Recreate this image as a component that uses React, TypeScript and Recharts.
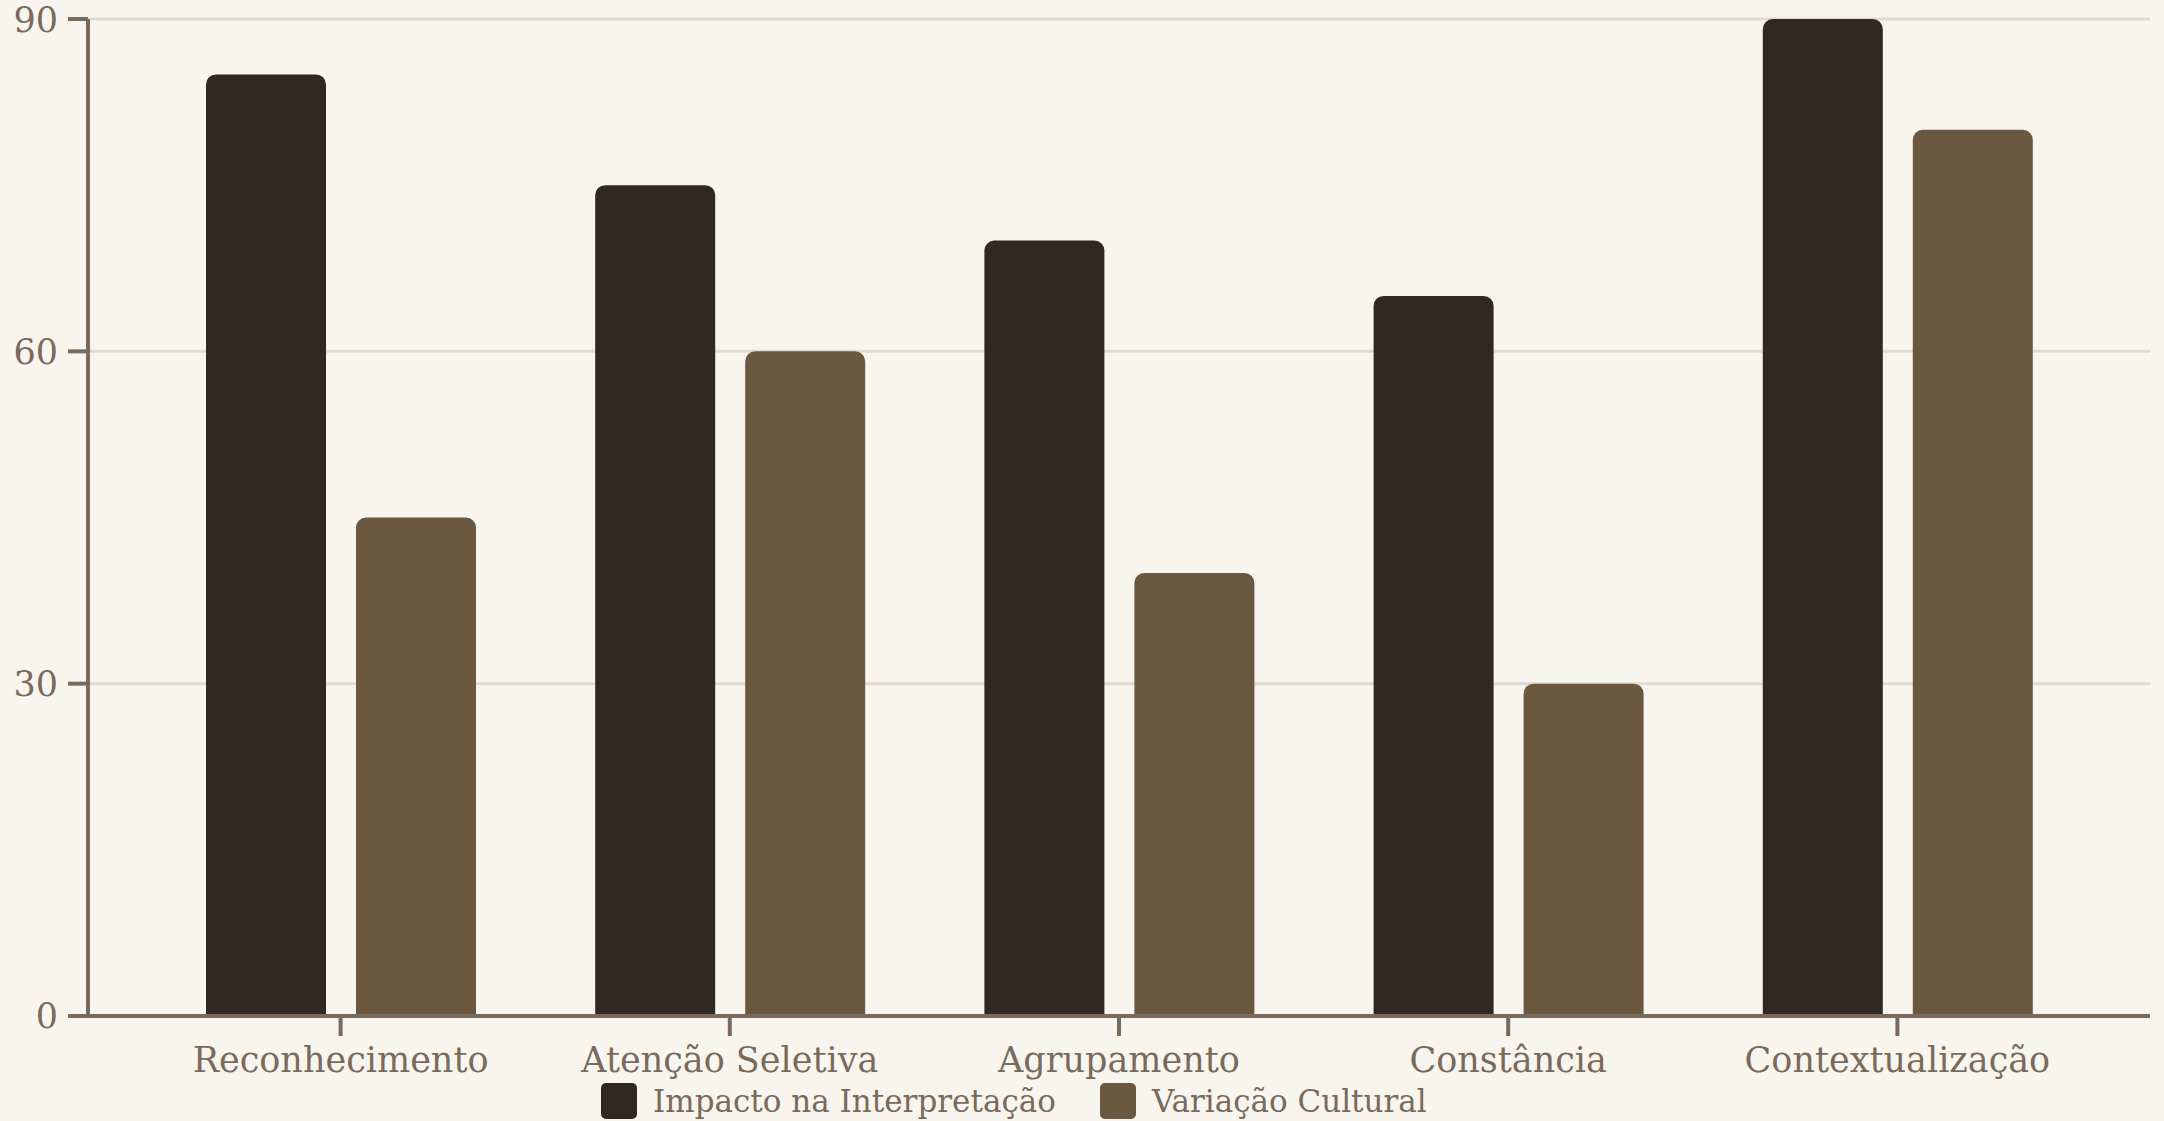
import { Bar, BarChart, CartesianGrid, Legend, XAxis, YAxis } from 'recharts'

const CATEGORIES = [
  'Reconhecimento',
  'Atenção Seletiva',
  'Agrupamento',
  'Constância',
  'Contextualização',
]
const IMPACTO = [85, 75, 70, 65, 90]
const VARIACAO = [45, 60, 40, 30, 80]
const Y_TICKS = [0, 30, 60, 90]

const SERIES = [
  { key: 'impacto', label: 'Impacto na Interpretação', color: '#312920' },
  { key: 'variacao', label: 'Variação Cultural', color: '#6b5840' },
]

const FONT = '"DejaVu Serif", "Liberation Serif", serif'
const INK = '#7a6a5c'

const chartData = CATEGORIES.map((name, i) => ({
  name,
  impacto: IMPACTO[i],
  variacao: VARIACAO[i],
}))

function LegendRow() {
  return (
    <div
      style={{
        height: 40,
        display: 'flex',
        alignItems: 'center',
        paddingLeft: 601,
        fontFamily: FONT,
        fontSize: 31,
        color: INK,
        whiteSpace: 'nowrap',
      }}
    >
      {SERIES.map((s, i) => (
        <div
          key={s.key}
          style={{ display: 'flex', alignItems: 'center', marginLeft: i === 0 ? 0 : 44 }}
        >
          <span
            style={{
              width: 36,
              height: 36,
              borderRadius: 5,
              background: s.color,
              marginRight: 16,
              display: 'inline-block',
            }}
          />
          <span>{s.label}</span>
        </div>
      ))}
    </div>
  )
}

export default function App() {
  return (
    <div
      style={{
        position: 'fixed',
        top: 0,
        left: 0,
        width: 2164,
        height: 1121,
        background: '#f8f5ee',
      }}
    >
      <BarChart
        width={2164}
        height={1121}
        data={chartData}
        margin={{ top: 19, right: 14, bottom: 0, left: 0 }}
        barSize={120}
        barGap={30}
      >
        <CartesianGrid vertical={false} stroke="#e0dbd2" strokeWidth={3} />
        <XAxis
          dataKey="name"
          height={65}
          padding={{ left: 58, right: 58 }}
          stroke={INK}
          strokeWidth={4}
          tickSize={20}
          tickMargin={11}
          tick={{ fill: INK, fontSize: 35, fontFamily: FONT }}
          interval={0}
        />
        <YAxis
          width={88}
          domain={[0, 90]}
          ticks={Y_TICKS}
          stroke={INK}
          strokeWidth={4}
          tickSize={20}
          tickMargin={10}
          tick={{ fill: INK, fontSize: 35, fontFamily: FONT }}
        />
        <Legend
          verticalAlign="bottom"
          wrapperStyle={{ left: 0, width: 2164 }}
          content={() => <LegendRow />}
        />
        {SERIES.map((s) => (
          <Bar
            key={s.key}
            dataKey={s.key}
            name={s.label}
            fill={s.color}
            radius={[10, 10, 0, 0]}
            isAnimationActive={false}
          />
        ))}
      </BarChart>
    </div>
  )
}
